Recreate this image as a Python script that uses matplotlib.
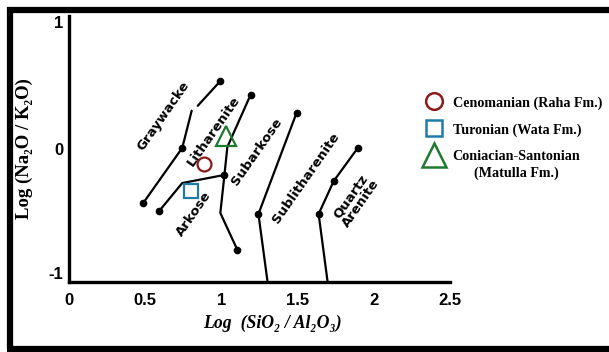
import matplotlib.pyplot as plt
from matplotlib.lines import Line2D
import numpy as np

# Pettijohn-type classification boundaries: log(SiO2/Al2O3) vs log(Na2O/K2O)
gray_x = [0.487, 0.743, 0.805, np.nan, 0.845, 0.993]
gray_y = [-0.406, 0.008, 0.288, np.nan, 0.325, 0.511]
gray_dots_x = [0.487, 0.743, 0.993]
gray_dots_y = [-0.406, 0.008, 0.511]

ark_x = [0.592, 0.743, 1.020]
ark_y = [-0.466, -0.256, -0.195]
lith_x = [1.020, 1.039, 1.191]
lith_y = [-0.195, 0.015, 0.406]
subark_x = [1.020, 0.993, 1.105]
subark_y = [-0.195, -0.481, -0.759]
mid_dots_x = [0.592, 1.020, 1.191, 1.105]
mid_dots_y = [-0.466, -0.195, 0.406, -0.759]

sublith_x = [1.493, 1.243, 1.303]
sublith_y = [0.271, -0.489, -1.0]
sublith_dots_x = [1.493, 1.243]
sublith_dots_y = [0.271, -0.489]

qtz_x = [1.895, 1.737, 1.638, 1.697]
qtz_y = [0.008, -0.241, -0.489, -1.0]
qtz_dots_x = [1.895, 1.737, 1.638]
qtz_dots_y = [0.008, -0.241, -0.489]

# field names: (text, x, y)
fields = [
    ("Graywacke", 0.618, 0.248),
    ("Litharenite", 0.947, 0.135),
    ("Arkose", 0.822, -0.489),
    ("Subarkose", 1.230, -0.023),
    ("Sublitharenite", 1.553, -0.218),
    ("Quartz\nArenite", 1.882, -0.383),
]

# sample averages
samples = ["Cenomanian (Raha Fm.)", "Turonian (Wata Fm.)", "Coniacian-Santonian"]
third_sub = "(Matulla Fm.)"
sample_x = [0.888, 0.803, 1.033]
sample_y = [-0.113, -0.316, 0.098]
markers = ["o", "s", "^"]
colors = ["#8b1a1a", "#1f7ca8", "#1d7a2e"]
msizes = [10, 9.5, 15]

xticks = [0, 0.5, 1, 1.5, 2, 2.5]
yticks = [-1, 0, 1]

W, H = 609, 352
fig = plt.figure(figsize=(W / 100, H / 100), dpi=100)
ax = fig.add_axes([69 / W, 70 / H, 381 / W, 266 / H])
ax.set_xlim(0, 2.5)
ax.set_ylim(-1, 1)

for s in ["top", "right"]:
    ax.spines[s].set_visible(False)
for s in ["left", "bottom"]:
    ax.spines[s].set_linewidth(2.4)

line_kw = dict(color="black", lw=1.6, solid_capstyle="round")
dot_kw = dict(ls="none", marker="o", ms=4.5, color="black")
ax.plot(gray_x, gray_y, **line_kw)
ax.plot(gray_dots_x, gray_dots_y, **dot_kw)
for lx, ly in [(ark_x, ark_y), (lith_x, lith_y), (subark_x, subark_y),
               (sublith_x, sublith_y), (qtz_x, qtz_y)]:
    ax.plot(lx, ly, clip_on=False, **line_kw)
ax.plot(mid_dots_x, mid_dots_y, **dot_kw)
ax.plot(sublith_dots_x, sublith_dots_y, **dot_kw)
ax.plot(qtz_dots_x, qtz_dots_y, **dot_kw)

for name, fx, fy in fields:
    ax.text(fx, fy, name, rotation=55, rotation_mode="anchor",
            ha="center", va="center", fontsize=9.5, fontweight="bold",
            family="DejaVu Sans", linespacing=0.95)

handles = []
for lab, sx, sy, m, c, ms in zip(samples, sample_x, sample_y, markers, colors, msizes):
    ax.plot([sx], [sy], ls="none", marker=m, ms=ms, mfc="none", mec=c, mew=1.6)
    handles.append(Line2D([], [], ls="none", marker=m, ms=ms + 2, mfc="none",
                          mec=c, mew=1.8, label=lab))

ax.set_xticks(xticks)
ax.set_xticklabels([f"{t:g}" for t in xticks])
ax.set_yticks(yticks)
ax.set_yticklabels([f"{t:g}" for t in yticks])
ax.set_xticks([0.5, 1, 1.5, 2], minor=True)
ax.set_yticks([0], minor=True)
ax.tick_params(which="major", length=0, pad=8, labelsize=12)
ax.tick_params(axis="y", which="major", pad=4)
ax.tick_params(which="minor", direction="in", length=10, width=1.8)
for lab in ax.get_xticklabels() + ax.get_yticklabels():
    lab.set_fontweight("bold")
    lab.set_family("Liberation Sans")
ylabs = ax.get_yticklabels()
ylabs[0].set_va("bottom")
ylabs[2].set_va("top")

serif = ["Liberation Serif", "DejaVu Serif"]
ax.set_ylabel("Log (Na\u2082O / K\u2082O)", fontsize=13.5, fontweight="bold", family=serif)
ax.yaxis.label.set_va("center")
ax.yaxis.set_label_coords((24 - 69) / 381, 0.5)
ax.set_xlabel("Log  (SiO\u2082 / Al\u2082O\u2083)", fontsize=12.8, fontweight="bold",
              style="italic", family=serif)
ax.xaxis.set_label_coords((272 - 69) / 381, (282 - 315) / 266)

leg_font = dict(family="Liberation Serif", weight="bold", size=10.2)
leg = fig.legend(handles=handles, loc="upper left",
                 bbox_to_anchor=(418 / W, 1 - 89 / H), frameon=False,
                 handlelength=1.2, handletextpad=0.75, labelspacing=0.95,
                 borderpad=0, prop=leg_font)

# second line of the last legend entry, centred under the first
fig.canvas.draw()
bb = leg.get_texts()[2].get_window_extent()
fig.text((bb.x0 + bb.x1) / 2 / W, (bb.y0 - 4) / H, third_sub, ha="center", va="top",
         **{"fontfamily": leg_font["family"], "fontweight": "bold", "fontsize": leg_font["size"]})

# outer frame (left, top, bottom edges)
frame_kw = dict(color="black", lw=4.5, transform=fig.transFigure, solid_capstyle="butt")
fig.add_artist(Line2D([9.5 / W, 9.5 / W], [1 - 7 / H, 3 / H], **frame_kw))
fig.add_artist(Line2D([7 / W, 1], [1 - 9.5 / H, 1 - 9.5 / H], **frame_kw))
fig.add_artist(Line2D([7 / W, 1], [3 / H, 3 / H], **frame_kw))

fig.savefig("out.png", dpi=100)
